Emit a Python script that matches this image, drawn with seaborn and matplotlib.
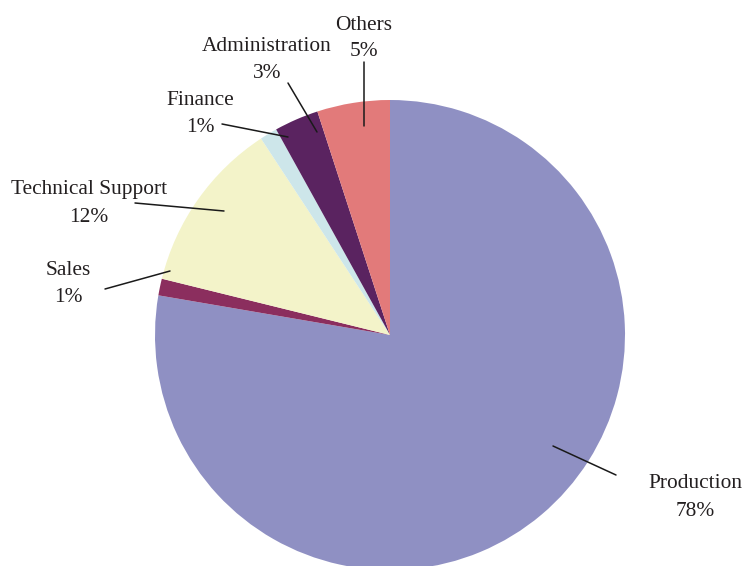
import matplotlib
matplotlib.use("Agg")
import matplotlib.pyplot as plt
import seaborn as sns

categories = ["Production", "Sales", "Technical Support", "Finance", "Administration", "Others"]
values = [77.7, 1.15, 11.9, 1.2, 3.05, 5.0]
pct_labels = ["78%", "1%", "12%", "1%", "3%", "5%"]
colors = ["#8F90C3", "#8B2E5E", "#F3F3C9", "#CDE6EA", "#5A2360", "#E27A7A"]

sns.set_theme(style="white")
plt.rcParams["font.family"] = ["Liberation Serif", "DejaVu Serif"]

W, H = 744, 566
fig = plt.figure(figsize=(W / 100, H / 100), dpi=100)
ax = fig.add_axes([0, 0, 1, 1])

CX, CY, R = 390, 335, 235


def px(x, y):
    return ((x - CX) / R, (CY - y) / R)


ax.pie(values, colors=colors, startangle=90, counterclock=False,
       radius=1, center=(0, 0), wedgeprops=dict(linewidth=0))

# layout: label centre (px) and leader line endpoints (px)
layout = {
    "Others": ((364, 22), ((364, 62), (364, 126))),
    "Administration": ((267, 44), ((288, 83), (317, 132))),
    "Finance": ((200, 98), ((222, 124), (288, 137))),
    "Technical Support": ((89, 187), ((135, 203), (224, 211))),
    "Sales": ((68, 268), ((105, 289), (170, 271))),
    "Production": ((695, 481), ((553, 446), (616, 475))),
}

FS = 15.4
for cat, pct in zip(categories, pct_labels):
    (tx, ty), (p0, p1) = layout[cat]
    x0, y0 = px(*p0)
    x1, y1 = px(*p1)
    ax.plot([x0, x1], [y0, y1], color="#1a1a1a", lw=1.1)
    lx, ly = px(tx, ty + 3)
    ax.text(lx, ly, cat, ha="center", va="center", fontsize=FS, color="#231f20")
    lx2, ly2 = px(tx, ty + 30)
    ax.text(lx2, ly2, pct, ha="center", va="center", fontsize=FS, color="#231f20")

ax.set_xlim((0 - CX) / R, (W - CX) / R)
ax.set_ylim((CY - H) / R, CY / R)
ax.set_aspect("auto")
ax.axis("off")

fig.savefig("out.png", dpi=100)
